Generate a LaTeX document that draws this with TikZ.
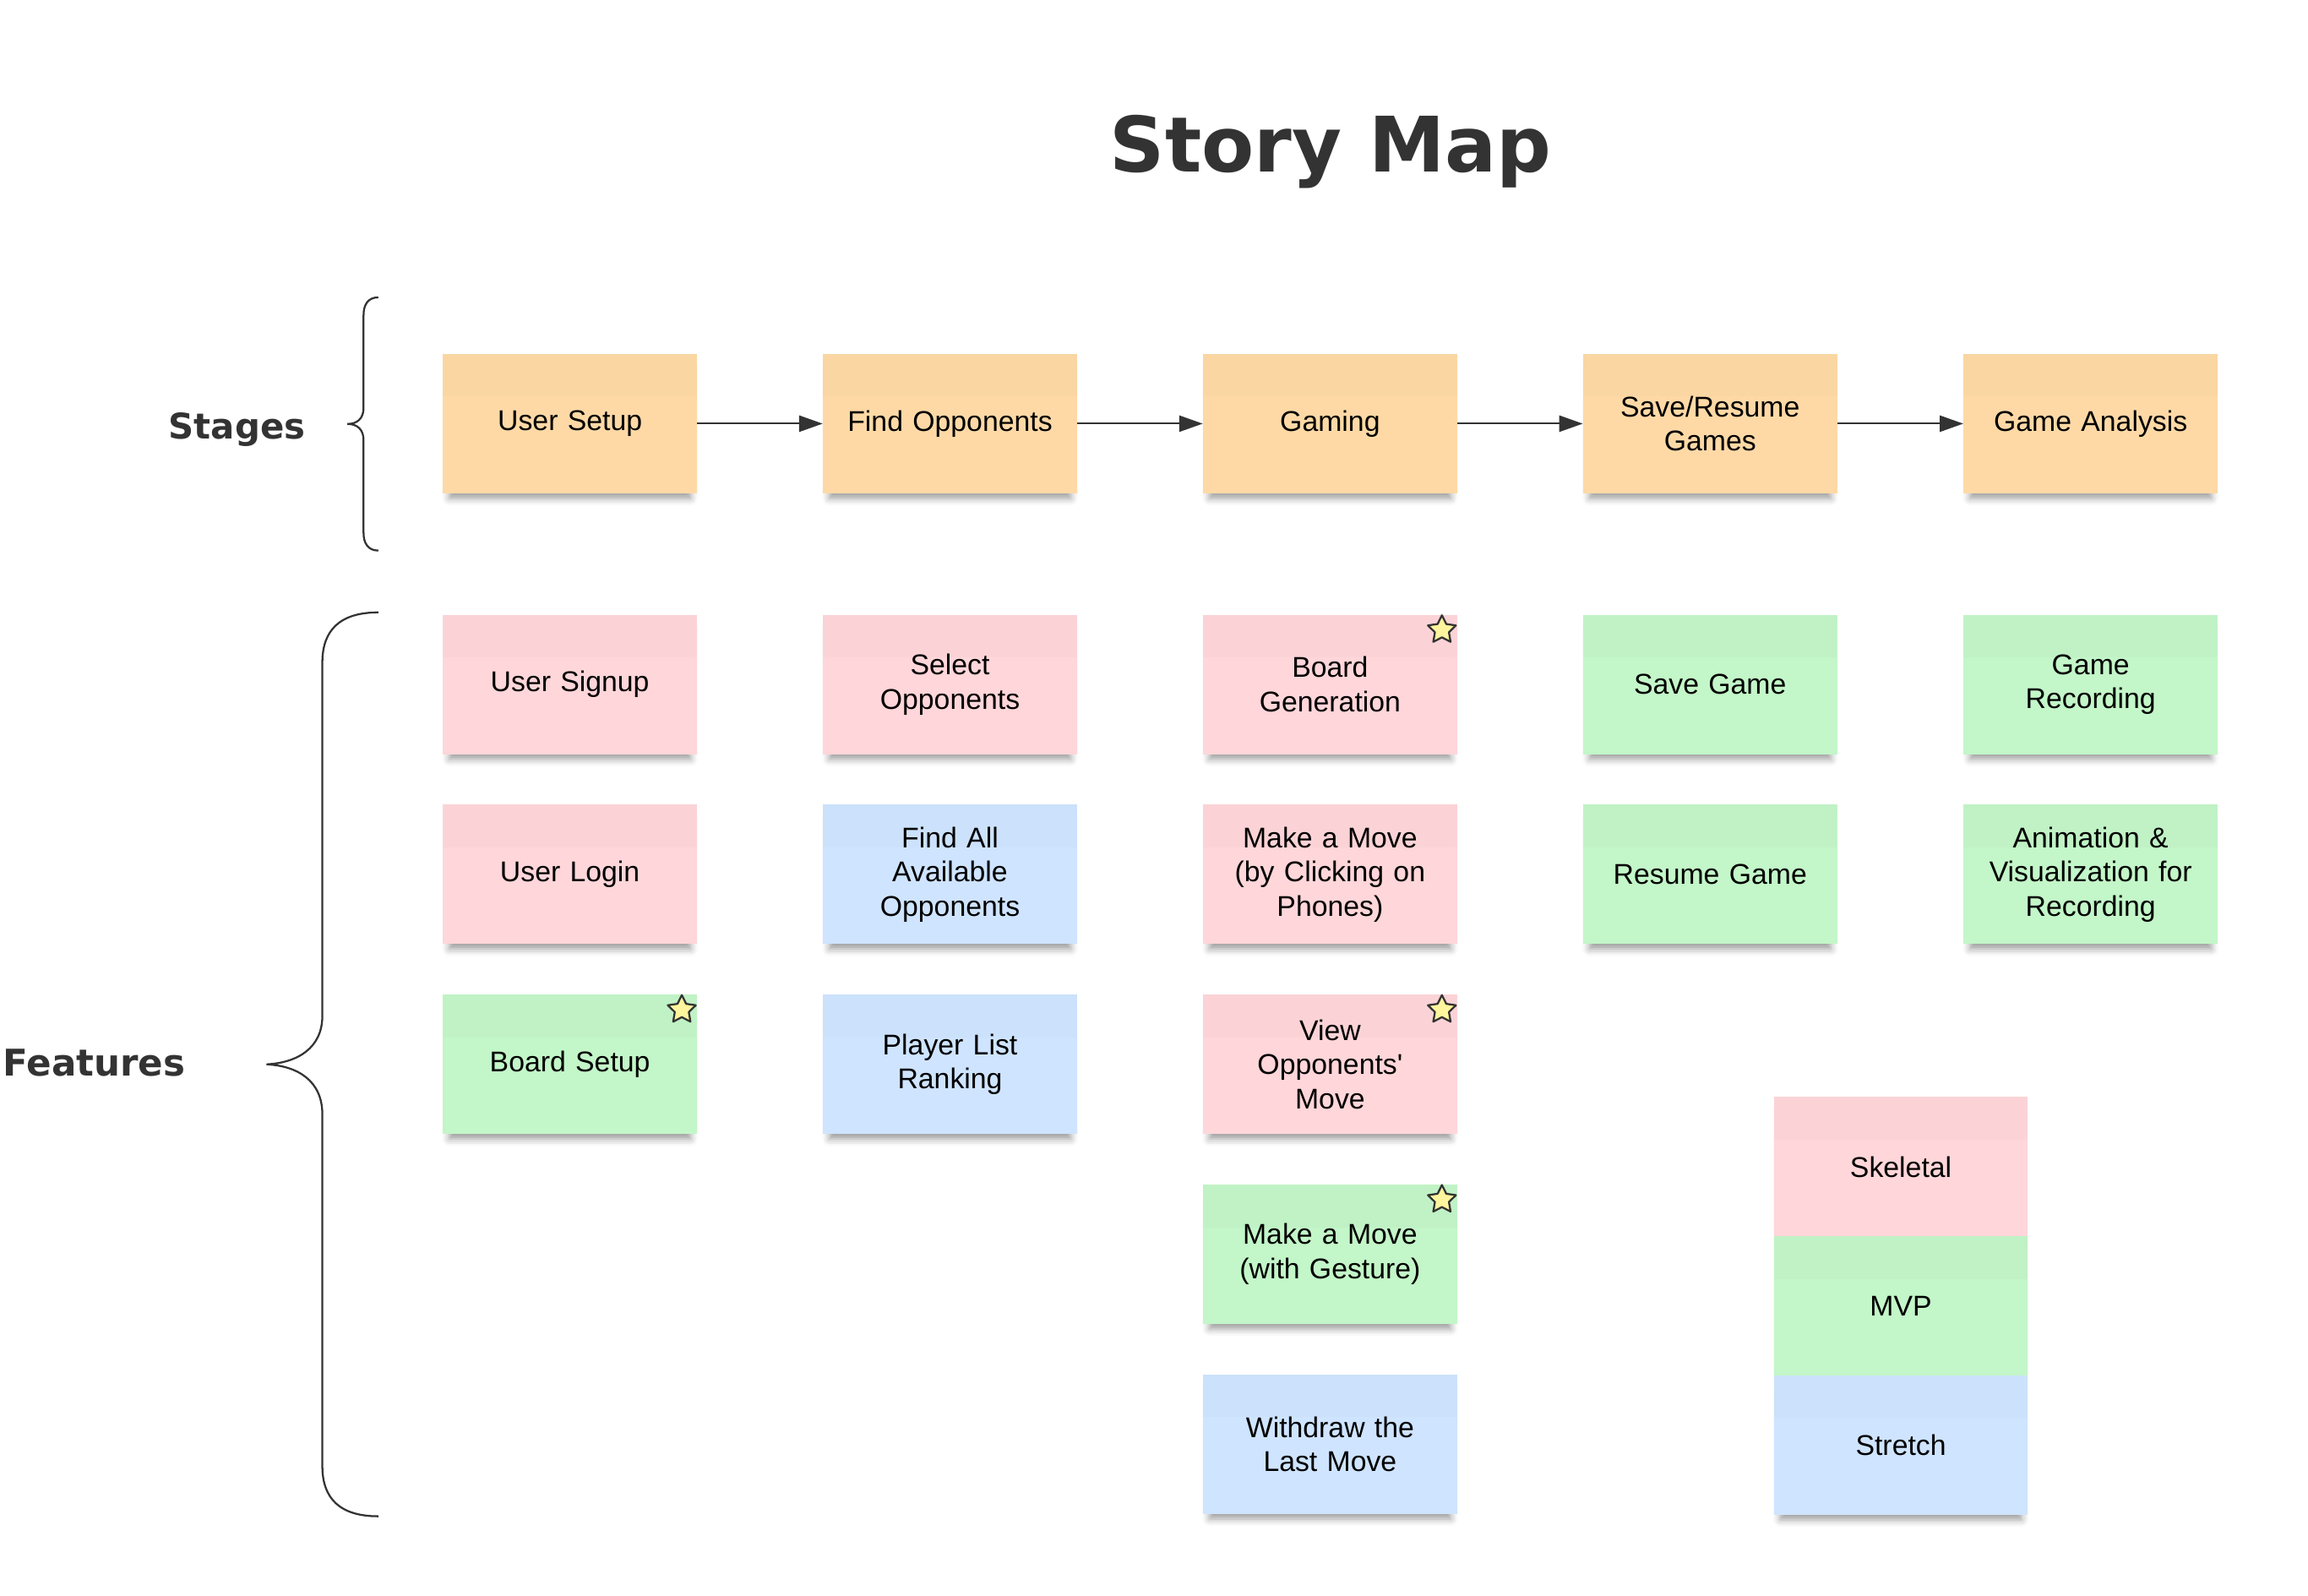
\documentclass[tikz,border=0pt]{standalone}
\usepackage{fontspec}
\usetikzlibrary{arrows.meta,shapes.geometric,shadows.blur}
\newfontfamily\notefont{Liberation Sans}
\newfontfamily\headfont{DejaVu Sans}
\definecolor{cOrange}{RGB}{254,217,166}
\definecolor{cPink}{RGB}{255,214,217}
\definecolor{cGreen}{RGB}{195,246,200}
\definecolor{cBlue}{RGB}{207,228,255}
\definecolor{cStar}{RGB}{255,245,157}
\definecolor{cInk}{RGB}{51,51,51}
\tikzset{
  note/.style={rectangle, minimum width=172.6pt, minimum height=94.7pt, inner sep=0pt,
    text width=168pt, align=center, text=black,
    font={\notefont\fontsize{19.4}{23.3}\selectfont},
    fill=#1,
    blur shadow={shadow xshift=0pt, shadow yshift=-6pt, shadow scale=0.95,
      shadow blur radius=5pt, shadow opacity=40},
    path picture={\fill[#1!98.5!black]
      (path picture bounding box.north west) rectangle
      ([yshift=-29pt]path picture bounding box.north east);}},
  starmark/.style={star, star points=5, star point ratio=2.0, minimum size=20pt,
    inner sep=0pt, fill=cStar, draw=cInk, line width=1.3pt, line join=round},
  arr/.style={draw=cInk, line width=1.2pt, -{Triangle[length=16pt,width=11pt]}},
  bracepath/.style={draw=cInk, line width=1.3pt},
  headlbl/.style={text=cInk, inner sep=0pt, anchor=base}
}
\begin{document}
\begin{tikzpicture}[x=1pt,y=-1pt]
\useasboundingbox (0,0) rectangle (1568,1083.6);

% title and labels
\node[headlbl, font={\headfont\bfseries\fontsize{52}{60}\selectfont}] (title) at (904,117) {Story Map};
\node[headlbl, font={\headfont\bfseries\fontsize{24}{28}\selectfont}] (stageslbl) at (161,298) {Stages};
\node[headlbl, font={\headfont\bfseries\fontsize{25}{29}\selectfont}] (featlbl) at (64,731) {Features};

% braces
\draw[bracepath] (257,202) .. controls (250,202) and (247,207) .. (247,214) -- (247,277)
  .. controls (247,284) and (243,288) .. (236,288)
  .. controls (243,288) and (247,292) .. (247,299) -- (247,362)
  .. controls (247,369) and (250,374) .. (257,374);
\draw[bracepath] (257,416) .. controls (231,416) and (219,428) .. (219,450) -- (219,690)
  .. controls (219,712) and (202,722) .. (181,723)
  .. controls (202,724) and (219,734) .. (219,757) -- (219,996)
  .. controls (219,1018) and (231,1030) .. (257,1030);

% stages
\node[note=cOrange] (s1) at (387.2,287.8) {User Setup};
\node[note=cOrange] (s2) at (645.4,287.8) {Find Opponents};
\node[note=cOrange] (s3) at (903.6,287.8) {Gaming};
\node[note=cOrange] (s4) at (1161.8,287.8) {Save/Resume\\Games};
\node[note=cOrange] (s5) at (1420.3,287.8) {Game Analysis};
\draw[arr] (s1) -- (s2);
\draw[arr] (s2) -- (s3);
\draw[arr] (s3) -- (s4);
\draw[arr] (s4) -- (s5);

% column 1
\node[note=cPink] (f11) at (387.2,465) {User Signup};
\node[note=cPink] (f12) at (387.2,594) {User Login};
\node[note=cGreen] (f13) at (387.2,723) {Board Setup};
% column 2
\node[note=cPink] (f21) at (645.4,465) {Select\\Opponents};
\node[note=cBlue] (f22) at (645.4,594) {Find All\\Available\\Opponents};
\node[note=cBlue] (f23) at (645.4,723) {Player List\\Ranking};
% column 3
\node[note=cPink] (f31) at (903.6,465) {Board\\Generation};
\node[note=cPink] (f32) at (903.6,594) {Make a Move\\(by Clicking on\\Phones)};
\node[note=cPink] (f33) at (903.6,723) {View\\Opponents'\\Move};
\node[note=cGreen] (f34) at (903.6,852) {Make a Move\\(with Gesture)};
\node[note=cBlue] (f35) at (903.6,981) {Withdraw the\\Last Move};
% column 4
\node[note=cGreen] (f41) at (1161.8,465) {Save Game};
\node[note=cGreen] (f42) at (1161.8,594) {Resume Game};
% column 5
\node[note=cGreen] (f51) at (1420.3,465) {Game\\Recording};
\node[note=cGreen] (f52) at (1420.3,594) {Animation \&\\Visualization for\\Recording};

% legend
\node[note=cPink] (lg1) at (1291.4,792.6) {Skeletal};
\node[note=cGreen] (lg2) at (1291.4,887.1) {MVP};
\node[note=cBlue] (lg3) at (1291.4,981.6) {Stretch};

% stars
\node[starmark] (st1) at ([xshift=-10.5pt,yshift=-10.5pt]f31.north east) {};
\node[starmark] (st2) at ([xshift=-10.5pt,yshift=-10.5pt]f13.north east) {};
\node[starmark] (st3) at ([xshift=-10.5pt,yshift=-10.5pt]f33.north east) {};
\node[starmark] (st4) at ([xshift=-10.5pt,yshift=-10.5pt]f34.north east) {};
\end{tikzpicture}
\end{document}
